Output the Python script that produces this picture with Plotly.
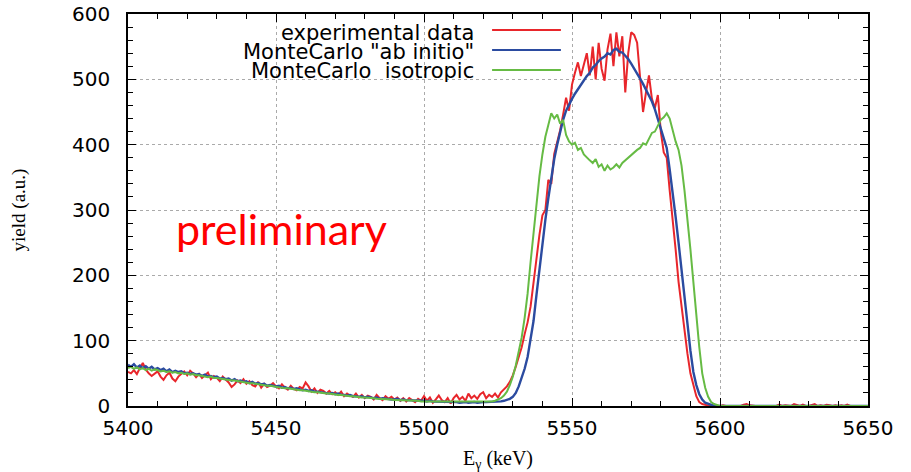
import numpy as np
import plotly.graph_objects as go

# Energy grid (keV), 1 keV bins
energy = list(range(5400, 5651))

# Experimental data (red)
exp_data = [
    52, 50, 55, 49, 58, 66, 56, 50, 46, 49,
    53, 45, 40, 47, 51, 42, 38, 45, 49, 53,
    47, 54, 50, 44, 49, 43, 47, 51, 41, 46,
    43, 38, 45, 40, 36, 29, 33, 39, 35, 41,
    34, 38, 32, 30, 37, 28, 34, 29, 31, 35,
    30, 27, 33, 28, 25, 31, 26, 24, 29, 27,
    36, 30, 22, 27, 20, 25, 23, 19, 23, 18,
    21, 17, 22, 15, 19, 16, 14, 19, 13, 17,
    12, 16, 14, 10, 17, 12, 9, 15, 11, 14,
    10, 13, 8, 12, 7, 12, 9, 6, 11, 8,
    15, 8, 13, 5, 10, 16, 9, 6, 12, 4,
    12, 17, 10, 14, 8, 19, 12, 16, 11, 18,
    21, 12, 17, 14, 19, 13, 21, 25, 30, 37,
    47, 60, 75, 90, 110, 128, 152, 190, 232, 262,
    292, 300, 346, 340, 386, 402, 422, 446, 472, 452,
    492, 510, 526, 505, 522, 540, 506, 550, 500, 556,
    516, 498, 546, 570, 520, 572, 535, 566, 480, 540,
    572, 568, 556, 500, 450, 480, 506, 470, 456, 476,
    420, 388, 380, 330, 290, 240, 190, 150, 110, 80,
    50, 30, 15, 6, 3, 2, 0, 1, 0, 0,
    0, 1, 0, 0, 0, 0, 0, 0, 2, 3,
    1, 0, 0, 0, 0, 0, 0, 0, 1, 0,
    2, 0, 1, 0, 0, 3, 1, 0, 2, 0,
    0, 1, 3, 0, 1, 0, 2, 1, 0, 1,
    0, 1, 0, 2, 0, 0, None, None, None, None,
    None,
]

# MonteCarlo "ab initio" (blue)
mc_ab_initio = [
    63, 60, 64, 59, 62, 58, 61, 57, 60, 56,
    58, 55, 57, 53, 56, 52, 54, 52, 53, 50,
    51, 49, 50, 48, 49, 46, 48, 45, 46, 44,
    45, 42, 43, 41, 42, 39, 41, 38, 39, 37,
    38, 35, 37, 34, 35, 33, 34, 31, 32, 31,
    30, 31, 28, 29, 27, 28, 26, 27, 25, 24,
    25, 23, 24, 22, 22, 21, 21, 20, 19, 20,
    18, 19, 17, 17, 16, 17, 15, 15, 14, 15,
    13, 14, 13, 12, 13, 11, 12, 11, 11, 10,
    10, 11, 9, 10, 9, 9, 8, 9, 8, 8,
    8, 7, 8, 7, 7, 6, 7, 6, 6, 7,
    6, 6, 5, 6, 6, 5, 6, 6, 5, 6,
    6, 6, 6, 7, 6, 7, 7, 8, 9, 11,
    14, 20, 30, 42, 57, 75, 100, 130, 170, 210,
    250, 285, 318, 348, 378, 400, 420, 438, 452, 462,
    470, 478, 485, 490, 498, 505, 510, 518, 522, 528,
    532, 535, 540, 538, 545, 547, 542, 541, 536, 531,
    524, 517, 509, 501, 493, 484, 475, 466, 454, 440,
    425, 410, 395, 362, 328, 290, 250, 210, 165, 120,
    85, 52, 32, 18, 10, 5, 3, 1, 0, 0,
    0, 0, 0, 0, 0, 0, 0, 0, 0, 0,
    0, 0, 0, 0, 0, 0, 0, 0, 0, 0,
    0, 0, 0, 0, 0, 0, 0, 0, 0, 0,
    0, 0, 0, 0, 0, 0, 0, 0, 0, 0,
    0, 0, 0, 0, 0, 0, 0, 0, 0, 0,
    0,
]

# MonteCarlo isotropic (green)
mc_isotropic = [
    58, 60, 57, 59, 56, 58, 55, 57, 54, 56,
    55, 53, 54, 52, 53, 51, 52, 50, 51, 49,
    50, 48, 49, 47, 47, 46, 46, 44, 45, 43,
    43, 42, 41, 41, 40, 39, 39, 38, 37, 37,
    36, 35, 35, 34, 33, 33, 32, 31, 31, 30,
    29, 29, 28, 27, 27, 26, 25, 25, 24, 24,
    23, 23, 22, 21, 21, 20, 20, 19, 19, 18,
    18, 17, 17, 16, 16, 15, 15, 14, 14, 13,
    13, 13, 12, 12, 11, 11, 11, 10, 10, 10,
    9, 9, 9, 9, 8, 8, 8, 8, 8, 7,
    7, 7, 7, 7, 6, 6, 6, 6, 6, 6,
    6, 6, 6, 6, 6, 6, 6, 6, 6, 6,
    6, 6, 7, 7, 8, 10, 12, 16, 22, 32,
    45, 62, 82, 105, 135, 172, 220, 268, 315, 352,
    385, 412, 430, 448, 440, 446, 432, 438, 415, 405,
    400, 403, 392, 395, 385, 380, 376, 372, 378, 366,
    370, 360, 368, 362, 365, 370, 365, 372, 376, 380,
    385, 388, 392, 395, 402, 400, 410, 418, 420, 430,
    438, 442, 448, 440, 420, 405, 392, 368, 330, 290,
    240, 190, 135, 90, 50, 28, 14, 6, 3, 1,
    0, 0, 0, 0, 0, 0, 0, 0, 0, 0,
    0, 0, 0, 0, 0, 0, 0, 0, 0, 0,
    0, 0, 0, 0, 0, 0, 0, 0, 0, 0,
    0, 0, 0, 0, 0, 0, 0, 0, 0, 0,
    0, 0, 0, 0, 0, 0, 0, 0, 0, 0,
    0,
]

series_names = ['experimental data', 'MonteCarlo "ab initio"', 'MonteCarlo\u00a0 isotropic']
series_colors = ["#e8262b", "#2b4ba0", "#66bb44"]
series_widths = [2, 2.4, 2]
x_ticks = [5400, 5450, 5500, 5550, 5600, 5650]
y_ticks = [0, 100, 200, 300, 400, 500, 600]

fig = go.Figure()
for name, ys, col, w in zip(series_names, [exp_data, mc_ab_initio, mc_isotropic], series_colors, series_widths):
    fig.add_trace(go.Scatter(x=energy, y=ys, mode="lines", name=name,
                             line=dict(color=col, width=w), showlegend=False))

# gnuplot-style legend: text right-aligned, line sample to the right
legend_text_y = [0.952, 0.903, 0.854]
legend_line_y = [0.959, 0.908, 0.857]
for name, col, ty, ly in zip(series_names, series_colors, legend_text_y, legend_line_y):
    fig.add_annotation(x=0.470, y=ty, xref="paper", yref="paper", text=name,
                       showarrow=False, xanchor="right", yanchor="middle",
                       font=dict(family="DejaVu Sans", size=21, color="black"))
    fig.add_shape(type="line", xref="paper", yref="paper", x0=0.492, x1=0.585,
                  y0=ly, y1=ly, line=dict(color=col, width=2))

fig.add_annotation(x=0.207, y=271, xref="paper", yref="y", text="preliminary",
                   showarrow=False, xanchor="center", yanchor="middle",
                   font=dict(family="Lato", size=43, color="#ff0000"))

axis_common = dict(
    showline=True, linecolor="black", linewidth=1.5, mirror="allticks",
    ticks="inside", ticklen=8, tickwidth=1, tickcolor="black",
    showgrid=True, gridcolor="#aaaaaa", griddash="dot", gridwidth=1,
    zeroline=False, automargin=False,
    tickfont=dict(family="DejaVu Sans", size=20, color="black"),
)

fig.update_xaxes(range=[5400, 5650], tickvals=x_ticks, ticklabelstandoff=3,
                 minor=dict(dtick=10, ticks="inside", ticklen=5, tickcolor="black", showgrid=False),
                 title=dict(text="E<sub>γ</sub> (keV)", standoff=15,
                            font=dict(family="Liberation Serif", size=20, color="black")),
                 **axis_common)
fig.update_yaxes(range=[0, 600], tickvals=y_ticks, ticklabelstandoff=12,
                 minor=dict(dtick=20, ticks="inside", ticklen=5, tickcolor="black", showgrid=False),
                 title=dict(text="yield (a.u.)", standoff=41,
                            font=dict(family="Liberation Serif", size=19, color="black")),
                 **axis_common)

fig.update_layout(width=911, height=472, autosize=False,
                  margin=dict(l=128, r=43, t=14, b=66),
                  paper_bgcolor="white", plot_bgcolor="white")

fig.write_html("out.html")
